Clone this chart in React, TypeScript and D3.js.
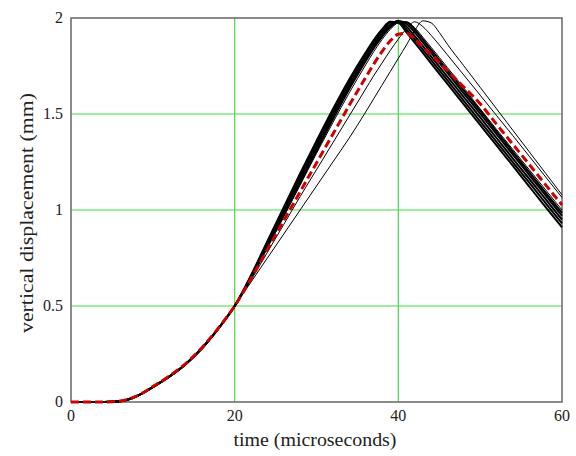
import React from "react";
import * as d3 from "d3";

const timeGrid = [0, 4, 6, 8, 10, 12, 14, 16, 18, 20, 22, 24, 26, 28, 30, 32, 34, 36, 37, 38, 39, 40, 41, 42, 43, 44, 45, 46, 48, 50, 52, 54, 56, 58, 60];

const mainA = [0, 0, 0.004, 0.03, 0.078, 0.132, 0.197, 0.28, 0.382, 0.5, 0.66, 0.838, 1.015, 1.19, 1.36, 1.525, 1.68, 1.82, 1.885, 1.94, 1.98, 1.975, 1.925, 1.872, 1.818, 1.764, 1.71, 1.657, 1.55, 1.443, 1.336, 1.23, 1.122, 1.015, 0.91];
const mainB = [0, 0, 0.004, 0.03, 0.078, 0.132, 0.197, 0.28, 0.382, 0.5, 0.655, 0.828, 1.0, 1.175, 1.345, 1.51, 1.665, 1.81, 1.875, 1.93, 1.975, 1.98, 1.94, 1.888, 1.835, 1.782, 1.728, 1.675, 1.568, 1.462, 1.355, 1.248, 1.142, 1.036, 0.93];
const mainC = [0, 0, 0.004, 0.03, 0.078, 0.132, 0.197, 0.28, 0.382, 0.5, 0.65, 0.82, 0.99, 1.16, 1.33, 1.495, 1.65, 1.795, 1.862, 1.92, 1.965, 1.985, 1.955, 1.905, 1.853, 1.8, 1.747, 1.694, 1.588, 1.482, 1.375, 1.268, 1.162, 1.056, 0.95];
const mainD = [0, 0, 0.004, 0.03, 0.078, 0.132, 0.197, 0.28, 0.382, 0.5, 0.648, 0.813, 0.98, 1.15, 1.318, 1.483, 1.64, 1.785, 1.852, 1.91, 1.958, 1.985, 1.97, 1.925, 1.873, 1.82, 1.767, 1.714, 1.608, 1.502, 1.395, 1.288, 1.182, 1.076, 0.97];
const mainE = [0, 0, 0.004, 0.03, 0.078, 0.132, 0.197, 0.28, 0.382, 0.5, 0.646, 0.808, 0.972, 1.14, 1.307, 1.472, 1.63, 1.775, 1.843, 1.902, 1.95, 1.98, 1.978, 1.94, 1.888, 1.835, 1.782, 1.729, 1.623, 1.517, 1.41, 1.303, 1.197, 1.091, 0.985];
const thinF = [0, 0, 0.004, 0.03, 0.078, 0.132, 0.197, 0.28, 0.382, 0.5, 0.645, 0.803, 0.965, 1.13, 1.295, 1.455, 1.61, 1.755, 1.825, 1.887, 1.94, 1.975, 1.98, 1.95, 1.9, 1.848, 1.795, 1.742, 1.636, 1.527, 1.42, 1.315, 1.21, 1.105, 1.0];
const thinG = [0, 0, 0.004, 0.03, 0.078, 0.132, 0.197, 0.28, 0.382, 0.5, 0.635, 0.78, 0.925, 1.07, 1.21, 1.35, 1.49, 1.63, 1.7, 1.765, 1.83, 1.89, 1.945, 1.98, 1.955, 1.91, 1.86, 1.808, 1.703, 1.598, 1.492, 1.387, 1.28, 1.172, 1.065];
const outerH = [0, 0, 0.004, 0.03, 0.078, 0.132, 0.197, 0.28, 0.382, 0.5, 0.625, 0.75, 0.875, 1.0, 1.125, 1.25, 1.375, 1.51, 1.58, 1.65, 1.72, 1.79, 1.86, 1.935, 1.985, 1.975, 1.925, 1.863, 1.751, 1.639, 1.527, 1.415, 1.303, 1.191, 1.079];
const meanRed = [0, 0, 0.005, 0.03, 0.08, 0.135, 0.2, 0.283, 0.385, 0.5, 0.642, 0.793, 0.945, 1.095, 1.245, 1.395, 1.545, 1.69, 1.76, 1.825, 1.88, 1.915, 1.92, 1.89, 1.85, 1.81, 1.768, 1.725, 1.64, 1.553, 1.447, 1.342, 1.237, 1.131, 1.026];

const blackSeries = [
  { name: "A", values: mainA, width: 2 },
  { name: "B", values: mainB, width: 2 },
  { name: "C", values: mainC, width: 2 },
  { name: "D", values: mainD, width: 2 },
  { name: "E", values: mainE, width: 2 },
  { name: "F", values: thinF, width: 1 },
  { name: "G", values: thinG, width: 1 },
  { name: "H", values: outerH, width: 1 },
];

const xTicks = [0, 20, 40, 60];
const yTicks = [0, 0.5, 1, 1.5, 2];
const yTickLabels = ["0", "0.5", "1", "1.5", "2"];
const xGrid = [20, 40];
const yGrid = [0.5, 1, 1.5];

const W = 576;
const H = 456;
const left = 71;
const right = 562;
const top = 18;
const bottom = 402;

export default function App() {
  const x = d3.scaleLinear().domain([0, 60]).range([left, right]);
  const y = d3.scaleLinear().domain([0, 2]).range([bottom, top]);
  const line = d3
    .line<number>()
    .x((_, i) => x(timeGrid[i]))
    .y((d) => y(d))
    .curve(d3.curveMonotoneX);
  const fontStyle = { fontFamily: "'Liberation Serif', 'Times New Roman', Times, serif" };
  return (
    <svg
      width={W}
      height={H}
      style={{ position: "absolute", left: 0, top: 0, background: "#fff" }}
    >
      <rect x={0} y={0} width={W} height={H} fill="#fff" />
      {xGrid.map((t) => (
        <line key={"xg" + t} x1={x(t)} x2={x(t)} y1={top} y2={bottom} stroke="#44dd44" strokeWidth={1.2} />
      ))}
      {yGrid.map((v) => (
        <line key={"yg" + v} x1={left} x2={right} y1={y(v)} y2={y(v)} stroke="#44dd44" strokeWidth={1.2} />
      ))}
      <rect x={left} y={top} width={right - left} height={bottom - top} fill="none" stroke="#6e6e6e" strokeWidth={1.6} />
      {blackSeries.map((s) => (
        <path key={s.name} d={line(s.values) || ""} fill="none" stroke="#000" strokeWidth={s.width} />
      ))}
      <path d={line(meanRed) || ""} fill="none" stroke="#d00000" strokeWidth={3} strokeDasharray="8,4" />
      {xTicks.map((t) => (
        <text key={"xt" + t} x={x(t)} y={421} textAnchor="middle" style={fontStyle} fontSize={16} fill="#222">
          {t}
        </text>
      ))}
      {yTicks.map((v, i) => (
        <text key={"yt" + v} x={63} y={y(v) + 5} textAnchor="end" style={fontStyle} fontSize={16} fill="#222">
          {yTickLabels[i]}
        </text>
      ))}
      <text x={315} y={446} textAnchor="middle" style={fontStyle} fontSize={18} fill="#222" textLength={163} lengthAdjust="spacingAndGlyphs">
        time (microseconds)
      </text>
      <text
        transform={`translate(33,213) rotate(-90)`}
        textAnchor="middle"
        style={fontStyle}
        fontSize={18}
        fill="#222"
        textLength={240}
        lengthAdjust="spacingAndGlyphs"
      >
        vertical displacement (mm)
      </text>
    </svg>
  );
}
